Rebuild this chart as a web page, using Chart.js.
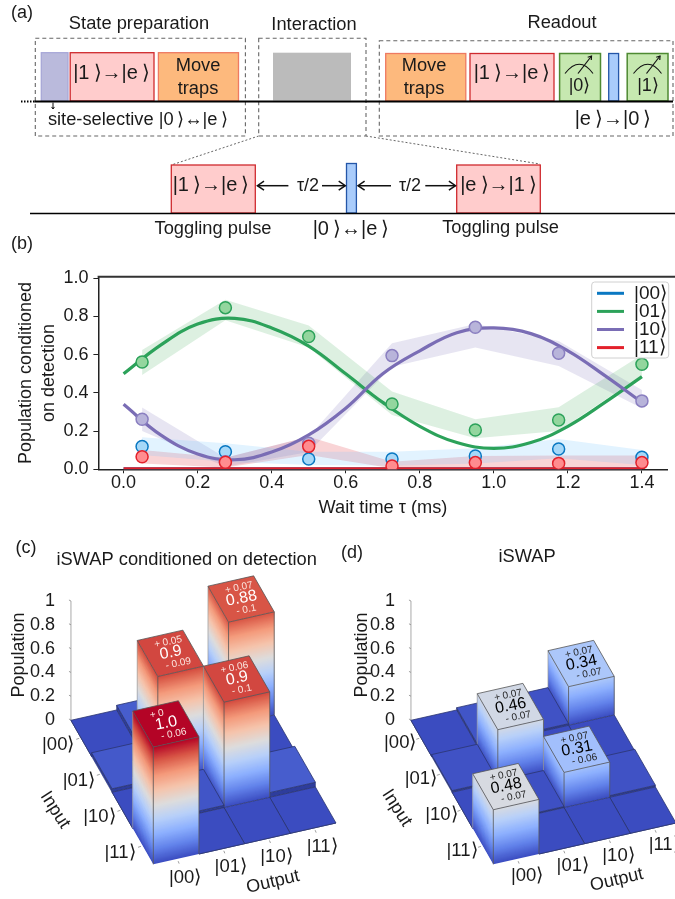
<!DOCTYPE html>
<html><head><meta charset="utf-8">
<style>html,body{margin:0;padding:0;background:#fff;width:675px;height:899px;overflow:hidden}canvas{position:absolute;display:block}</style>
<script src="https://cdn.jsdelivr.net/npm/chart.js@4"></script>
</head><body>
<canvas id="main" width="675" height="899" style="left:0;top:0;width:675px;height:899px"></canvas>
<canvas id="pc" width="338" height="369" style="left:0;top:530px;width:338px;height:369px"></canvas>
<canvas id="pd" width="335" height="369" style="left:340px;top:530px;width:335px;height:369px"></canvas>
<script>
// ---------- panel (b) data ----------
const waitTimes=[0.05,0.275,0.5,0.725,0.95,1.175,1.4];
const pts00=[0.119,0.092,0.054,0.054,0.07,0.106,0.063];
const pts01=[0.562,0.846,0.695,0.342,0.206,0.258,0.55];
const pts10=[0.262,0.04,0.136,0.595,0.743,0.607,0.358];
const pts11=[0.066,0.037,0.12,0.017,0.035,0.031,0.035];
const hi00=[0.168,0.136,0.092,0.092,0.11,0.159,0.101];
const lo00=[0.075,0.04,0.023,0.019,0.031,0.058,0.023];
const hi01=[0.625,0.887,0.752,0.407,0.262,0.325,0.6];
const lo01=[0.494,0.78,0.637,0.284,0.162,0.2,0.494];
const hi10=[0.323,0.06,0.17,0.66,0.76,0.672,0.415];
const lo10=[0.2,0.014,0.09,0.537,0.637,0.541,0.319];
const hi11=[0.101,0.061,0.171,0.04,0.07,0.072,0.072];
const lo11=[0.031,0.009,0.075,0.005,0.01,0.009,0.014];
const fitTimes=[0,0.1,0.2,0.3,0.4,0.5,0.6,0.7,0.8,0.9,1.0,1.1,1.2,1.3,1.4];
const fit00=[0.002,0.002,0.002,0.002,0.002,0.002,0.002,0.002,0.002,0.002,0.002,0.002,0.002,0.002,0.002];
const fit01=[0.5,0.65,0.76,0.79,0.74,0.645,0.5,0.35,0.225,0.14,0.11,0.14,0.225,0.35,0.485];
const fit10=[0.34,0.18,0.08,0.05,0.09,0.18,0.32,0.5,0.62,0.715,0.74,0.71,0.62,0.49,0.35];
const fit11=[0.003,0.003,0.003,0.003,0.003,0.003,0.003,0.003,0.003,0.003,0.003,0.003,0.003,0.003,0.003];
const kets=['|00⟩','|01⟩','|10⟩','|11⟩'];
const xTicksB=[0,0.2,0.4,0.6,0.8,1.0,1.2,1.4];
const yTicksB=[0,0.2,0.4,0.6,0.8,1.0];
// ---------- panels (c),(d) data: rows = input, cols = output ----------
const popTicks=[0,0.2,0.4,0.6,0.8,1];
const condMatrix=[[0,0.04,0,0.88],[0.03,0.9,0,0],[0,0.02,0.9,0.04],[1.0,0,0,0]];
const rawMatrix=[[0,0.02,0.015,0.34],[0.015,0.46,0,0],[0,0.01,0.31,0.015],[0.48,0,0,0]];
const condNotes=[[0,3,'0.88','+ 0.07','- 0.1'],[1,1,'0.9','+ 0.05','- 0.09'],[2,2,'0.9','+ 0.06','- 0.1'],[3,0,'1.0','+ 0','- 0.06']];
const rawNotes=[[0,3,'0.34','+ 0.07','- 0.07'],[1,1,'0.46','+ 0.07','- 0.07'],[2,2,'0.31','+ 0.07','- 0.06'],[3,0,'0.48','+ 0.07','- 0.07']];

const FF='"Liberation Sans",Arial,sans-serif';
const COL={b:'#0a78c2',g:'#2ca25a',p:'#7a6db5',r:'#e3212b'};
const cw=[[59,76,192],[98,130,234],[141,176,254],[184,208,249],[221,220,220],[245,196,172],[244,154,123],[217,88,71],[180,4,38]];
function coolwarm(t){t=Math.max(0,Math.min(1,t))*8;const i=Math.min(7,Math.floor(t)),f=t-i,a=cw[i],b=cw[i+1];
 return `rgb(${a.map((v,n)=>Math.round(v+(b[n]-v)*f)).join(',')})`;}
function T(ctx,s,x,y,size,o={}){ctx.save();ctx.translate(x,y);if(o.rot)ctx.rotate(o.rot);ctx.font=`${size}px ${FF}`;ctx.fillStyle=o.color||'#1a1a1a';ctx.textAlign=o.align||'center';ctx.textBaseline='middle';ctx.fillText(s,0,0);ctx.restore();}
function R(ctx,x0,y0,x1,y1,fill,stroke,w=1.3){ctx.fillStyle=fill;ctx.fillRect(x0,y0,x1-x0,y1-y0);if(stroke){ctx.strokeStyle=stroke;ctx.lineWidth=w;ctx.strokeRect(x0,y0,x1-x0,y1-y0);}}
function L(ctx,x0,y0,x1,y1,c='#000',w=1.5,dash){ctx.save();ctx.strokeStyle=c;ctx.lineWidth=w;if(dash)ctx.setLineDash(dash);ctx.beginPath();ctx.moveTo(x0,y0);ctx.lineTo(x1,y1);ctx.stroke();ctx.restore();}
function arrow(ctx,x0,y0,x1,y1,w=1.5,h=5){L(ctx,x0,y0,x1,y1,'#111',w);const a=Math.atan2(y1-y0,x1-x0);ctx.save();ctx.strokeStyle='#111';ctx.lineWidth=w;ctx.beginPath();ctx.moveTo(x1-h*Math.cos(a-0.6),y1-h*Math.sin(a-0.6));ctx.lineTo(x1,y1);ctx.lineTo(x1-h*Math.cos(a+0.6),y1-h*Math.sin(a+0.6));ctx.stroke();ctx.restore();}
function meter(ctx,cx,label){ctx.save();ctx.strokeStyle='#111';ctx.lineWidth=1.1;ctx.beginPath();ctx.moveTo(cx-14.5,73.5);ctx.quadraticCurveTo(cx,55,cx+13.5,73.5);ctx.stroke();ctx.restore();arrow(ctx,cx-1.5,73.5,cx+12,56,1.2,4);T(ctx,label,cx,86.5,18);}
function dashBox(ctx,x0,y0,x1,y1){ctx.save();ctx.strokeStyle='#666';ctx.lineWidth=1.1;ctx.setLineDash([4,3]);ctx.strokeRect(x0,y0,x1-x0,y1-y0);ctx.restore();}

const schematic={id:'schematic',afterDraw(ch){const c=ch.ctx;
 T(c,'(a)',22,13,18);T(c,'(b)',22,244,18);
 T(c,'State preparation',139,24,18.3);T(c,'Interaction',314,25,18.3);T(c,'Readout',562,23,18.3);
 const PK='#ffcccc',PB='#cf2a2f',OR='#fdb97d',OB='#ee7a62',GR='#c6e8b0',GB='#4e8a32',BL='#a9ccfb',BB='#2456a8';
 R(c,41.3,52.7,68,101,'#babadc','#a8a8d8');
 R(c,70.2,52.7,154,101,PK,PB);R(c,158.4,52.7,238.5,101,OR,OB);
 R(c,273,52.7,351,100.5,'#bbbbbb');
 R(c,385.7,53.5,465.8,101,OR,OB);R(c,470,53.5,554,101,PK,PB);
 R(c,559.6,53.5,600.5,101,GR,GB,1.5);R(c,608.7,53.5,618.6,101,BL,BB);R(c,627.2,53.5,668,101,GR,GB,1.5);
 dashBox(c,35.3,38.3,245.4,136);dashBox(c,258.7,38.3,366,136);dashBox(c,379.3,40.7,673,136);
 L(c,34.5,101.5,673,101.5,'#000',2);L(c,21,101.5,34.5,101.5,'#000',2,[1.5,1.5]);
 arrow(c,53,102.5,53,109,1,2.5);
 T(c,'|1\u2009⟩→|e\u2009⟩',111.5,73,20);T(c,'Move',198,65.7,18.3);T(c,'traps',198,89.3,18.3);
 T(c,'Move',424,65.7,18.3);T(c,'traps',424,89.3,18.3);T(c,'|1\u2009⟩→|e\u2009⟩',512,73,20);
 meter(c,579.5,'|0⟩');meter(c,648,'|1⟩');
 T(c,'site-selective |0\u2009⟩↔|e\u2009⟩',138,120,18.3);T(c,'|e\u2009⟩→|0\u2009⟩',613,119,20);
 L(c,258.7,136,171.3,165,'#666',1,[2,2]);L(c,366,136,540,164,'#666',1,[2,2]);
 R(c,171.3,165,255.3,213,PK,PB);R(c,456.7,165,540.3,213,PK,PB);R(c,346.5,163.5,356.4,213,BL,BB);
 L(c,30,213.5,675,213.5,'#000',1.5);
 T(c,'|1\u2009⟩→|e\u2009⟩',211,185,20);T(c,'|e\u2009⟩→|1\u2009⟩',498.5,185,20);
 arrow(c,288.4,185.7,257.4,185.7,1.5,8);arrow(c,322,185.7,345.3,185.7,1.5,8);
 arrow(c,391,185.7,358,185.7,1.5,8);arrow(c,425.3,185.7,455.5,185.7,1.5,8);
 T(c,'τ/2',308,186,18);T(c,'τ/2',410,186,18);
 T(c,'Toggling pulse',213,229,18.3);T(c,'|0\u2009⟩↔|e\u2009⟩',351,229,20);T(c,'Toggling pulse',500.6,228,18.3);
 // panel (b) top spine and legend
 const a=ch.chartArea;L(c,a.left-0.8,a.top,675,a.top,'#333',2);
 c.save();c.fillStyle='rgba(255,255,255,.85)';c.strokeStyle='#d0d0d0';c.lineWidth=1;c.beginPath();c.roundRect(591.7,282,77,76,3);c.fill();c.stroke();c.restore();
 [COL.b,COL.g,COL.p,COL.r].forEach((col,n)=>{const y=293.3+n*18.1;L(c,597,y,624,y,col,3);T(c,kets[n],634,y,19,{align:'left'});});
}};

function pointsOf(ys,xs=waitTimes){return xs.map((x,n)=>({x,y:ys[n]}));}
function band(hi,lo,color){return [
 {data:pointsOf(hi),borderWidth:0,pointRadius:0,tension:0,fill:'+1',backgroundColor:color,showLine:true,order:10},
 {data:pointsOf(lo),borderWidth:0,pointRadius:0,tension:0,fill:false,showLine:true,order:10}];}
function fitLine(ys,color,ord){return {data:pointsOf(ys,fitTimes),borderColor:color,borderWidth:3.2,pointRadius:0,tension:0.4,showLine:true,fill:false,order:ord};}
function dots(ys,fill,edge,ord){return {data:pointsOf(ys),showLine:false,pointRadius:6,pointBackgroundColor:fill,pointBorderColor:edge,pointBorderWidth:1.5,order:ord};}

new Chart(document.getElementById('main'),{type:'scatter',
 data:{datasets:[
  ...band(hi00,lo00,'rgba(110,195,255,.2)'),...band(hi01,lo01,'rgba(44,162,70,.16)'),
  ...band(hi10,lo10,'rgba(122,109,181,.18)'),...band(hi11,lo11,'rgba(227,40,50,.2)'),
  fitLine(fit00,COL.b,7),fitLine(fit01,COL.g,6),fitLine(fit10,COL.p,5),fitLine(fit11,COL.r,4),
  dots(pts01,'#93d69e','#2ca25a',3.5),dots(pts00,'#a6d8f8',COL.b,3),dots(pts10,'#b8b4da','#8a7fc0',2),dots(pts11,'#ff8c8f',COL.r,1)
 ]},
 options:{responsive:false,animation:false,devicePixelRatio:1,
  layout:{padding:{left:14,right:1.3,top:276.7,bottom:899-469.3-50}},
  plugins:{legend:{display:false},tooltip:{enabled:false},title:{display:false}},
  scales:{
   x:{type:'linear',min:-0.068,max:1.469,grid:{display:true,drawOnChartArea:false,color:'#222',tickLength:4},border:{color:'#222',width:1.5},
      afterBuildTicks:s=>{s.ticks=xTicksB.map(value=>({value}));},afterFit:s=>{s.height=50;},
      ticks:{color:'#1a1a1a',font:{family:FF,size:18},padding:-1,maxRotation:0,callback:v=>v.toFixed(1)},
      title:{display:true,text:'Wait time τ (ms)',color:'#1a1a1a',font:{family:FF,size:18.2},padding:0}},
   y:{type:'linear',min:0,max:1.008,grid:{display:true,drawOnChartArea:false,color:'#222',tickLength:5},border:{color:'#222',width:1.5},
      afterBuildTicks:s=>{s.ticks=yTicksB.map(value=>({value}));},afterFit:s=>{s.width=99.4-15;},
      ticks:{color:'#1a1a1a',font:{family:FF,size:18},padding:5,callback:v=>v.toFixed(1)},
      title:{display:true,text:['Population conditioned','on detection'],color:'#1a1a1a',font:{family:FF,size:18,lineHeight:1.3},padding:0}}
  }},
 plugins:[schematic]});

// ---------- 3D bar panels: positions come from the two hidden scales ----------
const PX_X=45.67,PX_Y=119,OX=71,OY=190,X_MIN=-1.802;
function bars3d(id,matrix,notes,o){
 const W=o.width,H=369;
 const kz=o.k;
 const xv=(j,i)=>j-0.4507*i, yv=(j,i,z)=>-1.2126+0.0868*j+0.3025*i+kz*z;
 const plug={id:'bars3d',afterDatasetsDraw(ch){
  const c=ch.ctx,xs=ch.scales.x,ys=ch.scales.y;
  const P=(j,i,z)=>[xs.getPixelForValue(xv(j,i)),ys.getPixelForValue(yv(j,i,z))];
  const poly=(pts,fill,stroke,w=0.8)=>{c.beginPath();pts.forEach((p,n)=>n?c.lineTo(p[0],p[1]):c.moveTo(p[0],p[1]));c.closePath();if(fill){c.fillStyle=fill;c.fill();}if(stroke){c.strokeStyle=stroke;c.lineWidth=w;c.stroke();}};
  // vertical axis
  const ax=xs.getPixelForValue(xv(0,4));
  L(c,ax,ys.getPixelForValue(0),ax,ys.getPixelForValue(1),'#aaa',1);
  popTicks.forEach(v=>{const y=ys.getPixelForValue(v);L(c,ax-2,y-1,ax,y,'#888',0.8);});
  const face=(j0,i0,j1,i1,h)=>{
   if(h<0.08){poly([P(j0,i0,0),P(j1,i1,0),P(j1,i1,h),P(j0,i0,h)],'#2e3d9c','#2b3570',0.6);return;}
   const n=Math.ceil(h*110);
   for(let s=0;s<n;s++){const z0=h*s/n,z1=h*(s+1)/n,z2=Math.min(h,z1+0.012),col=coolwarm((z0+z1)/2);
    poly([P(j0,i0,z0),P(j1,i1,z0),P(j1,i1,z2),P(j0,i0,z2)],col);}
  };
  const cells=[];matrix.forEach((row,r)=>row.forEach((v,col)=>cells.push({j:col,i:3-r,v})));
  cells.sort((a,b)=>(b.i+b.j)-(a.i+a.j));
  cells.forEach(({j,i,v})=>{
   face(j,i,j,i+1,v);face(j,i,j+1,i,v);
   if(v>=0.08){
    L(c,...P(j,i,0),...P(j,i,v),'#555',0.8);L(c,...P(j,i+1,0),...P(j,i+1,v),'#999',0.7);L(c,...P(j+1,i,0),...P(j+1,i,v),'#555',0.8);
   }
   poly([P(j,i,v),P(j+1,i,v),P(j+1,i+1,v),P(j,i+1,v)],coolwarm(v),v>=0.08?'#555':'#2b3570',0.8);
  });
  // annotations on bar tops
  notes.forEach(([r,col,val,plus,minus])=>{
   const i=3-r,v=matrix[r][col],m=P(col+0.5,i+0.5,v);
   c.save();c.translate(m[0],m[1]);c.rotate(-0.2);
   T(c,plus,-14,-11.5,10,{align:'left',color:o.small});
   T(c,val,0.5,-0.5,16,{color:o.big});
   T(c,minus,-7,11.5,10,{align:'left',color:o.small});
   c.restore();
  });
  // kets, axis names, title
  const LF=18.5;
  kets.forEach((k,n)=>{const a=P(0,3.5-n,0);T(c,k,a[0]-23+o.dx,a[1]+6.5+o.dy,LF);
    L(c,a[0]-5,a[1]+1,a[0]-2,a[1],'#888',0.8);
    const b=P(n+0.5,0,0);T(c,k,b[0]+9+o.dx,b[1]+18.5+o.dy,LF);L(c,b[0]+2,b[1]+2,b[0]+3,b[1]+4.5,'#888',0.8);});
  T(c,'Input',o.inX,o.inY,18,{rot:1.0});
  T(c,'Output',o.outX,o.outY,18,{rot:-0.23});
  T(c,'Population',o.popX,125,18,{rot:-Math.PI/2});
  T(c,o.title,o.titleX,o.titleY,o.titleSize);
  T(c,o.tag,o.tagX,o.tagY,18);
 }};
 return new Chart(document.getElementById(id),{type:'scatter',
  data:{datasets:[{data:cells2(matrix,xv,yv),pointRadius:0,showLine:false}]},
  options:{responsive:false,animation:false,devicePixelRatio:1,layout:{padding:0},
   plugins:{legend:{display:false},tooltip:{enabled:false}},
   scales:{
    x:{type:'linear',display:false,min:X_MIN,max:X_MIN+(W-OX)/PX_X},
    y:{type:'linear',min:-(H-OY)/PX_Y,max:OY/PX_Y,grid:{display:false},border:{display:false},
       afterBuildTicks:s=>{s.ticks=popTicks.map(value=>({value}));},afterFit:s=>{s.width=OX;s.paddingTop=0;s.paddingBottom=0;},
       ticks:{color:'#1a1a1a',font:{family:FF,size:18},padding:8,callback:v=>String(v)}}
   }},plugins:[plug]});
}
function cells2(matrix,xv,yv){const out=[];matrix.forEach((row,r)=>row.forEach((v,col)=>out.push({x:xv(col+0.5,3.5-r),y:yv(col+0.5,3.5-r,v)})));return out;}

bars3d('pc',condMatrix,condNotes,{width:338,k:0.985,small:'#fbe6e0',big:'#fff',dx:0,dy:0,inX:55,inY:280,outX:273,outY:352,popX:19,title:'iSWAP conditioned on detection',titleX:186.7,titleY:30,titleSize:18.3,tag:'(c)',tagX:26,tagY:18});
bars3d('pd',rawMatrix,rawNotes,{width:335,k:0.955,small:'#222',big:'#000',dx:2,dy:-1.5,inX:56.7,inY:278,outX:276.7,outY:350,popX:22,title:'iSWAP',titleX:187,titleY:27,titleSize:18.3,tag:'(d)',tagX:12,tagY:23});
</script>
</body></html>
